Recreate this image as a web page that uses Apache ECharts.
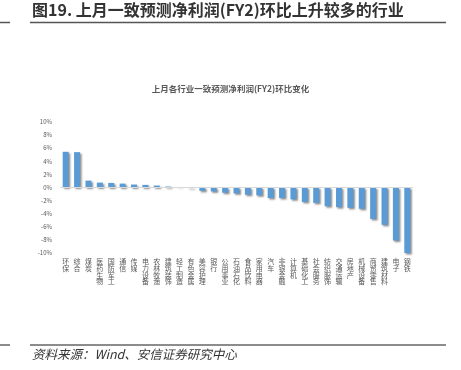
<!DOCTYPE html>
<html><head><meta charset="utf-8">
<script src="https://cdn.jsdelivr.net/npm/echarts@6/dist/echarts.min.js"></script>
<style>html,body{margin:0;padding:0;background:#fff}#c{width:461px;height:370px}</style>
</head><body><div id="c"></div>
<script>
const categories = ['环保','综合','煤炭','医药生物','国防军工','通信','传媒','电力设备','农林牧渔','建筑装饰','轻工制造','有色金属','美容护理','银行','公用事业','石油石化','食品饮料','家用电器','汽车','非银金融','计算机','基础化工','社会服务','纺织服饰','交通运输','房地产','机械设备','商贸零售','建筑材料','电子','钢铁'];
const values = [5.45,5.4,1.05,0.75,0.7,0.6,0.45,0.4,0.3,0.15,0.05,-0.1,-0.5,-0.6,-0.8,-0.9,-1.1,-1.2,-1.6,-1.6,-1.8,-2.2,-2.35,-2.85,-3.0,-3.1,-3.25,-4.8,-5.7,-8.1,-10.0];
const yTicks = [-10,-8,-6,-4,-2,0,2,4,6,8,10];
const chart = echarts.init(document.getElementById('c'));
const F = '"Noto Sans CJK SC", sans-serif';
chart.setOption({
  animation:false,
  title:{text:'上月各行业一致预测净利润(FY2)环比变化',left:'center',top:80,textStyle:{fontFamily:F,fontSize:8.5,fontWeight:'bold',color:'#595959'}},
  grid:{left:60,right:48,top:122,bottom:117},
  xAxis:{type:'category',data:categories,axisLine:{show:false},axisTick:{show:false},
    axisLabel:{interval:0,rotate:0,hideOverlap:false,margin:5,fontFamily:F,fontSize:7,lineHeight:6.8,color:'#595959',
      formatter:v=>v.split('').join('\n')}},
  yAxis:{type:'value',min:yTicks[0],max:yTicks[yTicks.length-1],interval:2,splitLine:{show:false},
    axisLabel:{fontFamily:F,fontSize:6,color:'#595959',formatter:v=>v+'%',margin:8}},
  series:[{type:'bar',data:values,barWidth:6,
    itemStyle:{color:'#5B9BD5',shadowColor:'rgba(0,0,0,0.45)',shadowBlur:2,shadowOffsetX:1.5,shadowOffsetY:1.5},
    markLine:{silent:true,symbol:'none',label:{show:false},lineStyle:{color:'#d9d9d9',width:1,type:'solid'},data:[{yAxis:0}]}}],
  graphic:[
    {type:'text',left:32,top:2,style:{text:'图19. 上月一致预测净利润(FY2)环比上升较多的行业',font:'bold 16px "Noto Sans CJK SC", sans-serif',fill:'#333'}},
    {type:'line',shape:{x1:0,y1:22.5,x2:10,y2:22.5},style:{stroke:'#555',lineWidth:1.5}},
    {type:'line',shape:{x1:30,y1:22.5,x2:446,y2:22.5},style:{stroke:'#555',lineWidth:1.5}},
    {type:'line',shape:{x1:0,y1:345,x2:10,y2:345},style:{stroke:'#666',lineWidth:1.5}},
    {type:'line',shape:{x1:30,y1:345,x2:446,y2:345},style:{stroke:'#666',lineWidth:1.5}},
    {type:'text',left:32,top:348,style:{text:'资料来源：Wind、安信证券研究中心',font:'italic 12.5px "Noto Sans CJK SC", sans-serif',fill:'#333'}}
  ]
});
</script></body></html>
